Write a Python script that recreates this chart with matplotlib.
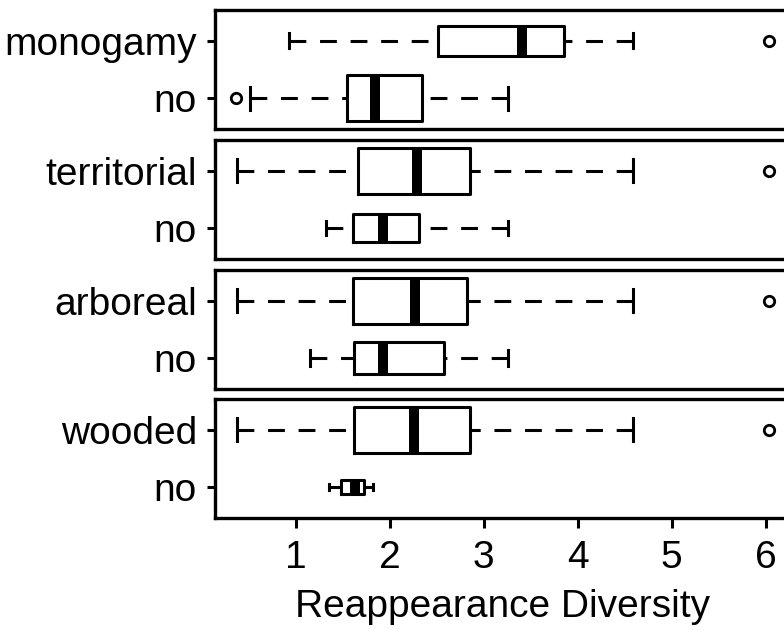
import matplotlib
matplotlib.use("Agg")
import matplotlib.pyplot as plt
import numpy as np

plt.rcParams["font.family"] = ["Liberation Sans", "DejaVu Sans"]

# ── Summary statistics per trait (yes group / "no" group) ─────────────────
traits = ["monogamy", "territorial", "arboreal", "wooded"]

yes_whislo = [0.93, 0.38, 0.38, 0.38]
yes_q1     = [2.51, 1.66, 1.61, 1.62]
yes_med    = [3.41, 2.29, 2.27, 2.26]
yes_q3     = [3.86, 2.85, 2.82, 2.85]
yes_whishi = [4.59, 4.59, 4.59, 4.59]
yes_fliers = [[6.04], [6.04], [6.04], [6.04]]
yes_n      = [42, 103, 96, 130]

no_whislo = [0.51, 1.32, 1.15, 1.35]
no_q1     = [1.55, 1.61, 1.62, 1.48]
no_med    = [1.84, 1.93, 1.93, 1.63]
no_q3     = [2.34, 2.31, 2.58, 1.73]
no_whishi = [3.26, 3.26, 3.26, 1.82]
no_fliers = [[0.37], [], [], []]
no_n      = [99, 38, 45, 11]

x_ticks = [1, 2, 3, 4, 5, 6]
x_label = "Reappearance Diversity"

# ── Layout (pixels) ───────────────────────────────────────────────────────
W, H = 784, 630
LEFT, RIGHT = 215, 791
PANEL_TOPS = [10, 140, 270, 399]
PANEL_H = 119
FS = 28
LW = 2.2

fig = plt.figure(figsize=(W / 100, H / 100), dpi=100)


def stats(whislo, q1, med, q3, whishi, fliers):
    return dict(whislo=whislo, q1=q1, med=med, q3=q3, whishi=whishi,
                fliers=np.array(fliers))


for i, trait in enumerate(traits):
    top = PANEL_TOPS[i]
    ax = fig.add_axes([LEFT / W, 1 - (top + PANEL_H) / H,
                       (RIGHT - LEFT) / W, PANEL_H / H])

    bstats = [
        stats(no_whislo[i], no_q1[i], no_med[i], no_q3[i], no_whishi[i], no_fliers[i]),
        stats(yes_whislo[i], yes_q1[i], yes_med[i], yes_q3[i], yes_whishi[i], yes_fliers[i]),
    ]
    # varwidth-style box heights, scaled within each panel
    n = np.array([no_n[i], yes_n[i]], dtype=float)
    widths = 0.8 * np.sqrt(n / n.max())

    art = ax.bxp(
        bstats, positions=[1, 2], widths=widths, capwidths=widths * 0.5,
        orientation="horizontal",
        boxprops=dict(linewidth=LW, color="black"),
        whiskerprops=dict(linewidth=LW, color="black",
                          linestyle=(0, (5.5, 4.5)), dash_capstyle="butt"),
        capprops=dict(linewidth=LW, color="black"),
        medianprops=dict(linewidth=7.2, color="black", solid_capstyle="butt"),
        flierprops=dict(marker="o", markerfacecolor="none",
                        markeredgecolor="black", markersize=7.5,
                        markeredgewidth=2.0, linestyle="none"),
    )
    # dash pattern starts at the whisker end, not at the box
    for wl in art["whiskers"]:
        wl.set_xdata(wl.get_xdata()[::-1])
        wl.set_ydata(wl.get_ydata()[::-1])

    ax.set_xlim(0.142, 6.27)
    ax.set_ylim(0.46, 2.54)
    ax.set_yticks([1, 2])
    ax.set_yticklabels(["no", trait])
    for sp in ax.spines.values():
        sp.set_linewidth(LW + 0.2)
    ax.tick_params(axis="y", direction="out", length=6, width=LW,
                   labelsize=FS, pad=7)

    if i == len(traits) - 1:
        ax.set_xticks(x_ticks)
        ax.set_xticklabels([str(t) for t in x_ticks])
        ax.tick_params(axis="x", direction="out", length=7, width=LW,
                       labelsize=FS, pad=9)
        ax.set_xlabel(x_label, fontsize=FS, labelpad=9)
    else:
        ax.set_xticks([])

fig.savefig("out.png", dpi=100)
plt.close(fig)
